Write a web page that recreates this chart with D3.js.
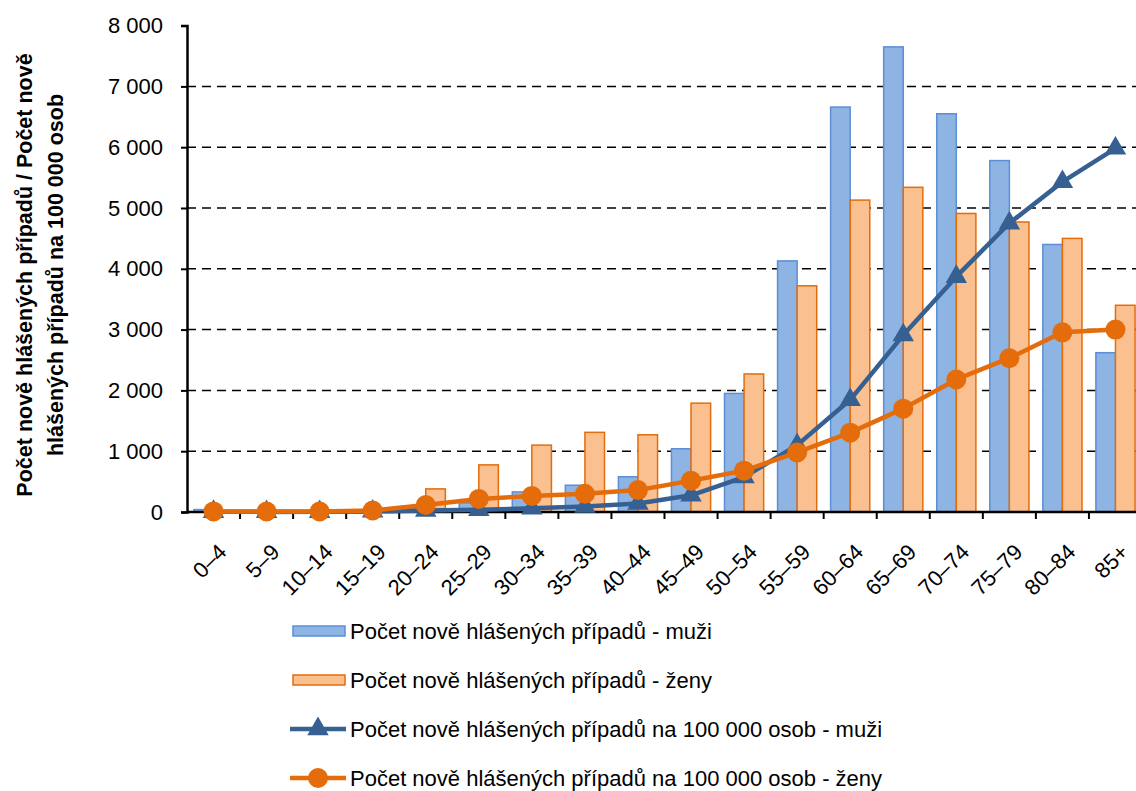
<!DOCTYPE html>
<html>
<head>
<meta charset="utf-8">
<script src="https://cdn.jsdelivr.net/npm/d3@7"></script>
<style>
  body { margin: 0; background: #fff; }
  text { font-family: "Liberation Sans", Arial, sans-serif; }
</style>
</head>
<body>
<div id="viz"></div>
<script>
// age groups
var ageGroups = ["0–4", "5–9", "10–14", "15–19", "20–24", "25–29", "30–34", "35–39", "40–44",
                 "45–49", "50–54", "55–59", "60–64", "65–69", "70–74", "75–79", "80–84", "85+"];

// number of newly reported cases
var casesMen   = [40, 5, 5, 15, 60, 150, 330, 440, 580, 1040, 1950, 4130, 6660, 7650, 6550, 5780, 4400, 2620];
var casesWomen = [10, 5, 5, 30, 380, 775, 1100, 1310, 1270, 1790, 2270, 3720, 5130, 5340, 4910, 4770, 4500, 3400];

// cases per 100 000 persons
var rateMen   = [5, 2, 3, 10, 25, 35, 60, 90, 140, 275, 575, 1100, 1845, 2910, 3870, 4750, 5430, 5980];
var rateWomen = [10, 8, 8, 25, 115, 215, 265, 300, 360, 515, 680, 980, 1305, 1700, 2180, 2530, 2955, 3000];

var yTicks = [0, 1000, 2000, 3000, 4000, 5000, 6000, 7000, 8000];

var legendLabels = [
  "Počet nově hlášených případů - muži",
  "Počet nově hlášených případů - ženy",
  "Počet nově hlášených případů na 100 000 osob - muži",
  "Počet nově hlášených případů na 100 000 osob - ženy"
];

var yTitle = ["Počet nově hlášených případů / Počet nově", "hlášených případů na 100 000 osob"];

var blueFill = "#8eb4e3", blueStroke = "#5b8fd6", blueLine = "#376092";
var orangeFill = "#fac08f", orangeStroke = "#e46c0a", orangeLine = "#e46c0a";

var width = 1136, height = 791;
var margin = {top: 25.6, left: 187, bottom: 512, right: 1142};

var svg = d3.select("#viz").append("svg")
  .attr("width", width)
  .attr("height", height);

var x = d3.scaleBand()
  .domain(ageGroups)
  .range([margin.left, margin.right])
  .paddingInner(0)
  .paddingOuter(0);

var xSub = d3.scaleBand()
  .domain(["m", "z"])
  .range([0, x.bandwidth()])
  .paddingInner(0)
  .paddingOuter(0.355);

var y = d3.scaleLinear()
  .domain([0, 8000])
  .range([margin.bottom, margin.top]);

var fmt = d3.formatLocale({decimal: ",", thousands: " ", grouping: [3]}).format(",");

// gridlines
svg.append("g")
  .selectAll("line")
  .data(yTicks.filter(function(d) { return d > 0 && d < 8000; }))
  .join("line")
  .attr("x1", margin.left)
  .attr("x2", margin.right)
  .attr("y1", function(d) { return y(d); })
  .attr("y2", function(d) { return y(d); })
  .attr("stroke", "#000")
  .attr("stroke-width", 1.5)
  .attr("stroke-dasharray", "9,6");

// bars
var groups = svg.append("g").selectAll("g")
  .data(ageGroups)
  .join("g")
  .attr("transform", function(d) { return "translate(" + x(d) + ",0)"; });

groups.append("rect")
  .attr("x", xSub("m"))
  .attr("width", xSub.bandwidth())
  .attr("y", function(d, i) { return y(casesMen[i]); })
  .attr("height", function(d, i) { return y(0) - y(casesMen[i]); })
  .attr("fill", blueFill)
  .attr("stroke", blueStroke)
  .attr("stroke-width", 1.5);

groups.append("rect")
  .attr("x", xSub("z"))
  .attr("width", xSub.bandwidth())
  .attr("y", function(d, i) { return y(casesWomen[i]); })
  .attr("height", function(d, i) { return y(0) - y(casesWomen[i]); })
  .attr("fill", orangeFill)
  .attr("stroke", orangeStroke)
  .attr("stroke-width", 1.5);

// x axis
var xAxis = svg.append("g")
  .attr("transform", "translate(0," + y(0) + ")")
  .call(d3.axisBottom(x).tickSize(0).tickFormat(""));
xAxis.select(".domain").remove();
xAxis.append("line")
  .attr("x1", margin.left).attr("x2", margin.right)
  .attr("stroke", "#000").attr("stroke-width", 2.5);
xAxis.selectAll(".boundary")
  .data(ageGroups.slice(1).concat(["end"]))
  .join("line")
  .attr("class", "boundary")
  .attr("x1", function(d, i) { return margin.left + (i + 1) * x.step(); })
  .attr("x2", function(d, i) { return margin.left + (i + 1) * x.step(); })
  .attr("y1", 0).attr("y2", 7)
  .attr("stroke", "#000").attr("stroke-width", 2);

svg.append("g").selectAll("text")
  .data(ageGroups)
  .join("text")
  .attr("transform", function(d) {
    return "translate(" + (x(d) + x.bandwidth() / 2 + 9) + "," + (y(0) + 36) + ") rotate(-45)";
  })
  .attr("text-anchor", "end")
  .attr("dy", "0.35em")
  .style("font-size", "22px")
  .text(function(d) { return d; });

// y axis
var yAxis = svg.append("g")
  .attr("transform", "translate(" + margin.left + ",0)")
  .call(d3.axisLeft(y).tickValues(yTicks).tickSize(6).tickPadding(18).tickFormat(fmt));
yAxis.select(".domain").attr("stroke", "#000").attr("stroke-width", 2.5);
yAxis.selectAll(".tick line").attr("stroke", "#000").attr("stroke-width", 2);
yAxis.selectAll(".tick text").style("font-size", "22px").style("font-family", "'Liberation Sans', Arial, sans-serif").attr("fill", "#000");

// y title
svg.append("text")
  .attr("transform", "translate(32,275) rotate(-90)")
  .attr("text-anchor", "middle")
  .style("font-size", "21.5px")
  .style("font-weight", "bold")
  .selectAll("tspan")
  .data(yTitle)
  .join("tspan")
  .attr("x", 0)
  .attr("dy", function(d, i) { return i === 0 ? 0 : 31; })
  .text(function(d) { return d; });

// lines
var cx = function(d, i) { return x(ageGroups[i]) + x.bandwidth() / 2; };

var lineGen = d3.line()
  .x(function(d, i) { return cx(d, i); })
  .y(function(d) { return y(d); });

svg.append("path").datum(rateMen)
  .attr("fill", "none")
  .attr("stroke", blueLine)
  .attr("stroke-width", 4.5)
  .attr("stroke-linejoin", "round")
  .attr("d", lineGen);

var tri = d3.symbol().type(d3.symbolTriangle).size(200);
svg.append("g").selectAll("path")
  .data(rateMen)
  .join("path")
  .attr("transform", function(d, i) { return "translate(" + cx(d, i) + "," + y(d) + ")"; })
  .attr("d", tri)
  .attr("fill", blueLine);

svg.append("path").datum(rateWomen)
  .attr("fill", "none")
  .attr("stroke", orangeLine)
  .attr("stroke-width", 4.5)
  .attr("stroke-linejoin", "round")
  .attr("d", lineGen);

svg.append("g").selectAll("circle")
  .data(rateWomen)
  .join("circle")
  .attr("cx", cx)
  .attr("cy", function(d) { return y(d); })
  .attr("r", 10)
  .attr("fill", orangeLine);

// legend
var legend = svg.append("g").attr("transform", "translate(293,631)");
var legendRows = legend.selectAll("g")
  .data(legendLabels)
  .join("g")
  .attr("transform", function(d, i) { return "translate(0," + (i * 49) + ")"; });

legendRows.each(function(d, i) {
  var g = d3.select(this);
  if (i < 2) {
    g.append("rect")
      .attr("x", 0).attr("y", -5)
      .attr("width", 52).attr("height", 10)
      .attr("fill", i === 0 ? blueFill : orangeFill)
      .attr("stroke", i === 0 ? blueStroke : orangeStroke)
      .attr("stroke-width", 1.5);
  } else {
    var col = i === 2 ? blueLine : orangeLine;
    g.append("line")
      .attr("x1", -3).attr("x2", 53)
      .attr("stroke", col).attr("stroke-width", 4.5);
    if (i === 2) {
      g.append("path")
        .attr("transform", "translate(25,0)")
        .attr("d", tri)
        .attr("fill", col);
    } else {
      g.append("circle").attr("cx", 25).attr("r", 10).attr("fill", col);
    }
  }
  g.append("text")
    .attr("x", 57)
    .attr("dy", "0.35em")
    .style("font-size", "22px")
    .text(d);
});
</script>
</body>
</html>
